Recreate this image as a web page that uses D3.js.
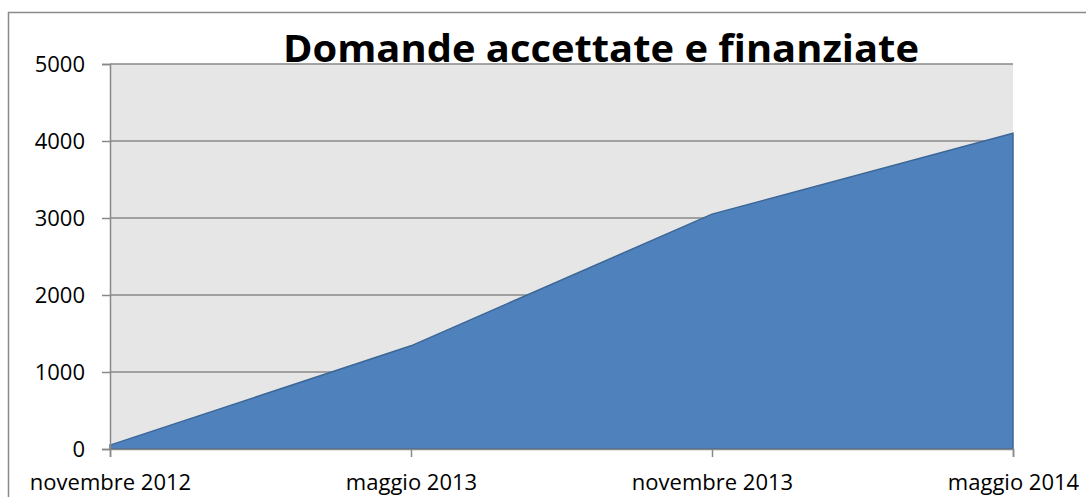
<!DOCTYPE html>
<html>
<head>
<meta charset="utf-8">
<script src="https://cdn.jsdelivr.net/npm/d3@7"></script>
<style>
  body { margin: 0; background: #fff; }
  svg text { font-family: "Open Sans", "Liberation Sans", sans-serif; fill: #000; }
</style>
</head>
<body>
<div id="chart"></div>
<script>
// data
const periods = ["novembre 2012", "maggio 2013", "novembre 2013", "maggio 2014"];
const domande = [50, 1340, 3050, 4100];
const yTicks = [0, 1000, 2000, 3000, 4000, 5000];
const titolo = "Domande accettate e finanziate";

const W = 1086, H = 497;
const margin = {top: 64, right: 73, bottom: 48, left: 110};
const width = W - margin.left - margin.right;
const height = H - margin.top - margin.bottom;

const svg = d3.select("#chart").append("svg")
    .attr("width", W)
    .attr("height", H);

// outer chart border (runs off the right and bottom edges)
svg.append("rect")
    .attr("x", 8.5).attr("y", 12.5)
    .attr("width", W + 20).attr("height", H + 20)
    .attr("fill", "none")
    .attr("stroke", "#8a8a8a")
    .attr("stroke-width", 1.5);

const g = svg.append("g")
    .attr("transform", `translate(${margin.left}, ${margin.top})`);

const x = d3.scalePoint().domain(periods).range([0, width]);
const y = d3.scaleLinear().domain([0, 5000]).range([height, 0]);

// plot background
g.append("rect")
    .attr("width", width).attr("height", height)
    .attr("fill", "#e6e6e6");

// horizontal gridlines
g.append("g")
    .selectAll("line")
    .data(yTicks.filter(d => d > 0))
    .join("line")
    .attr("x1", 0).attr("x2", width)
    .attr("y1", d => y(d)).attr("y2", d => y(d))
    .attr("stroke", "#888")
    .attr("stroke-width", 1.6);

// area
const data = periods.map((p, i) => ({p: p, v: domande[i]}));
g.append("path")
    .datum(data)
    .attr("fill", "#4f81bd")
    .attr("stroke", "#3b6797")
    .attr("stroke-width", 1.5)
    .attr("d", d3.area()
        .x(d => x(d.p))
        .y0(y(0))
        .y1(d => y(d.v)));

// y axis
const yAxis = g.append("g")
    .call(d3.axisLeft(y).tickValues(yTicks).tickFormat(d3.format("d")).tickSize(8).tickPadding(17));
yAxis.select(".domain").attr("stroke", "#888").attr("stroke-width", 1.5);
yAxis.selectAll(".tick line").attr("stroke", "#888").attr("stroke-width", 1.5);
yAxis.selectAll("text").attr("font-size", "22px").attr("dy", "0.35em")
    .attr("font-family", "'Open Sans', sans-serif");

// x axis
const xAxis = g.append("g")
    .attr("transform", `translate(0, ${height})`)
    .call(d3.axisBottom(x).tickSize(8).tickPadding(17));
xAxis.select(".domain").attr("stroke", "#888").attr("stroke-width", 1.5);
xAxis.selectAll(".tick line").attr("stroke", "#888").attr("stroke-width", 1.5);
xAxis.selectAll("text").attr("font-size", "22px")
    .attr("font-family", "'Open Sans', sans-serif");

// title
svg.append("text")
    .attr("x", 601)
    .attr("y", 62)
    .attr("text-anchor", "middle")
    .attr("font-size", "38px")
    .attr("font-weight", "bold")
    .attr("textLength", 636)
    .attr("lengthAdjust", "spacingAndGlyphs")
    .text(titolo);
</script>
</body>
</html>
